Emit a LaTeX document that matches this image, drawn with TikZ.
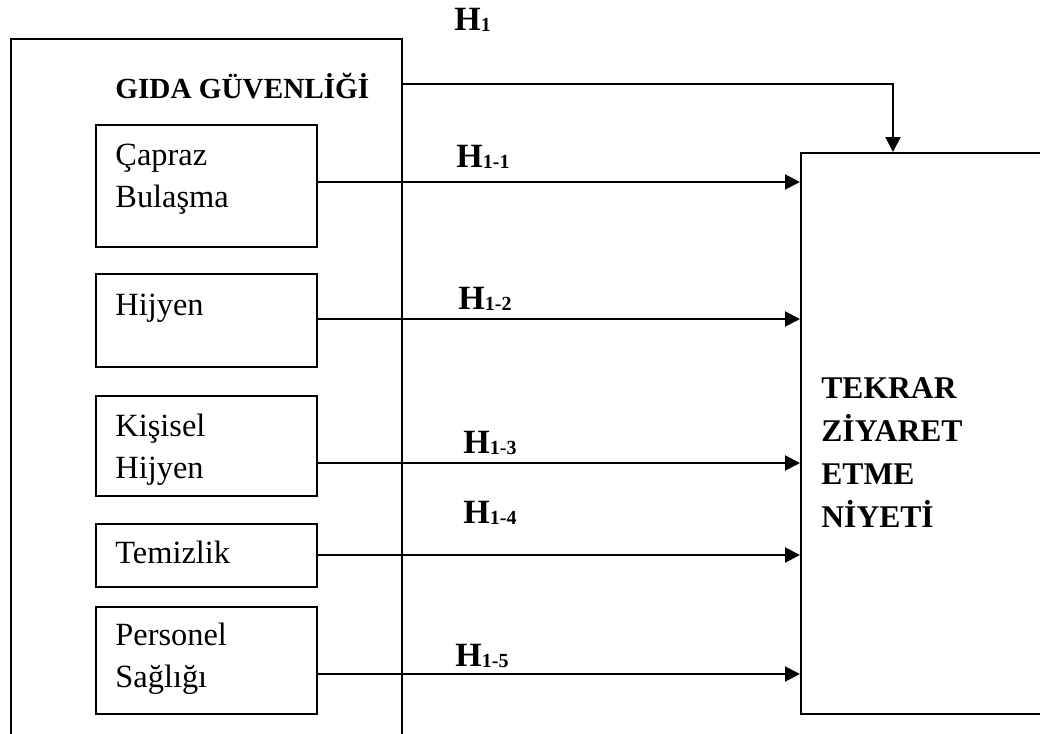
\documentclass[tikz,border=0pt]{standalone}
\usepackage{fontspec}
\setmainfont{Liberation Serif}
\usetikzlibrary{arrows.meta}
% hypothesis label: bold H with a smaller index
\newcommand\hyplab[1]{H\raisebox{-0.6pt}{\fontsize{10}{11}\selectfont #1}}
\begin{document}
\begin{tikzpicture}[x=0.5pt,y=-0.5pt,
  box/.style={draw,line width=1pt,rectangle,inner sep=0pt,anchor=north west},
  sub/.style={box,minimum width=110.5pt},
  link/.style={line width=1pt,-{Triangle[length=7.5pt,width=7.5pt]}},
  % multi-line texts are placed by the baseline of their last line
  txt/.style={anchor=base west,inner sep=0pt,align=left,font=\fontsize{16.2}{21}\selectfont},
  btxt/.style={anchor=base west,inner sep=0pt,align=left,font=\fontsize{15.8}{21.4}\selectfont\bfseries},
  hyp/.style={anchor=base west,inner sep=0pt,font=\fontsize{17}{20}\selectfont\bfseries}]
\useasboundingbox (0,0) rectangle (1040,734);
\clip (0,0) rectangle (1040,734);

% main construct (runs off the lower edge) and the outcome box (runs off the right edge)
\node[box,minimum width=195.5pt,minimum height=360pt] (gida) at (10,38) {};
\node[box,minimum width=130pt,minimum height=280.5pt] (tv) at (800,152) {};

% sub-dimension boxes
\node[sub,minimum height=61pt]   (b1) at (95,124) {};
\node[sub,minimum height=46.5pt] (b2) at (95,273) {};
\node[sub,minimum height=50pt]   (b3) at (95,395) {};
\node[sub,minimum height=31.5pt] (b4) at (95,523) {};
\node[sub,minimum height=53.5pt] (b5) at (95,606) {};

% texts
\node[btxt,font=\fontsize{14.6}{18}\selectfont\bfseries] (tg) at (115,98) {GIDA GÜVENLİĞİ};
\node[txt] (t1) at (115,207) {Çapraz\\Bulaşma};
\node[txt] (t2) at (115,315) {Hijyen};
\node[txt] (t3) at (115,478) {Kişisel\\Hijyen};
\node[txt] (t4) at (115,563) {Temizlik};
\node[txt] (t5) at (115,687) {Personel\\Sağlığı};
\node[btxt] (tt) at (821,527) {TEKRAR\\ZİYARET\\ETME\\NİYETİ};

% hypothesis labels
\node[hyp] (h1)  at (454,30)  {\hyplab{1}};
\node[hyp] (h11) at (456,167) {\hyplab{1-1}};
\node[hyp] (h12) at (458,309) {\hyplab{1-2}};
\node[hyp] (h13) at (463,453) {\hyplab{1-3}};
\node[hyp] (h14) at (463,523) {\hyplab{1-4}};
\node[hyp] (h15) at (455,666) {\hyplab{1-5}};

% connectors
\draw[link] (gida.north east |- 0,84) -| (tv.north west -| 893,0);
\draw[link] (b1.east |- 0,182) -- (tv.west |- 0,182);
\draw[link] (b2.east |- 0,319) -- (tv.west |- 0,319);
\draw[link] (b3.east |- 0,463) -- (tv.west |- 0,463);
\draw[link] (b4.east |- 0,555) -- (tv.west |- 0,555);
\draw[link] (b5.east |- 0,674) -- (tv.west |- 0,674);
\end{tikzpicture}
\end{document}
